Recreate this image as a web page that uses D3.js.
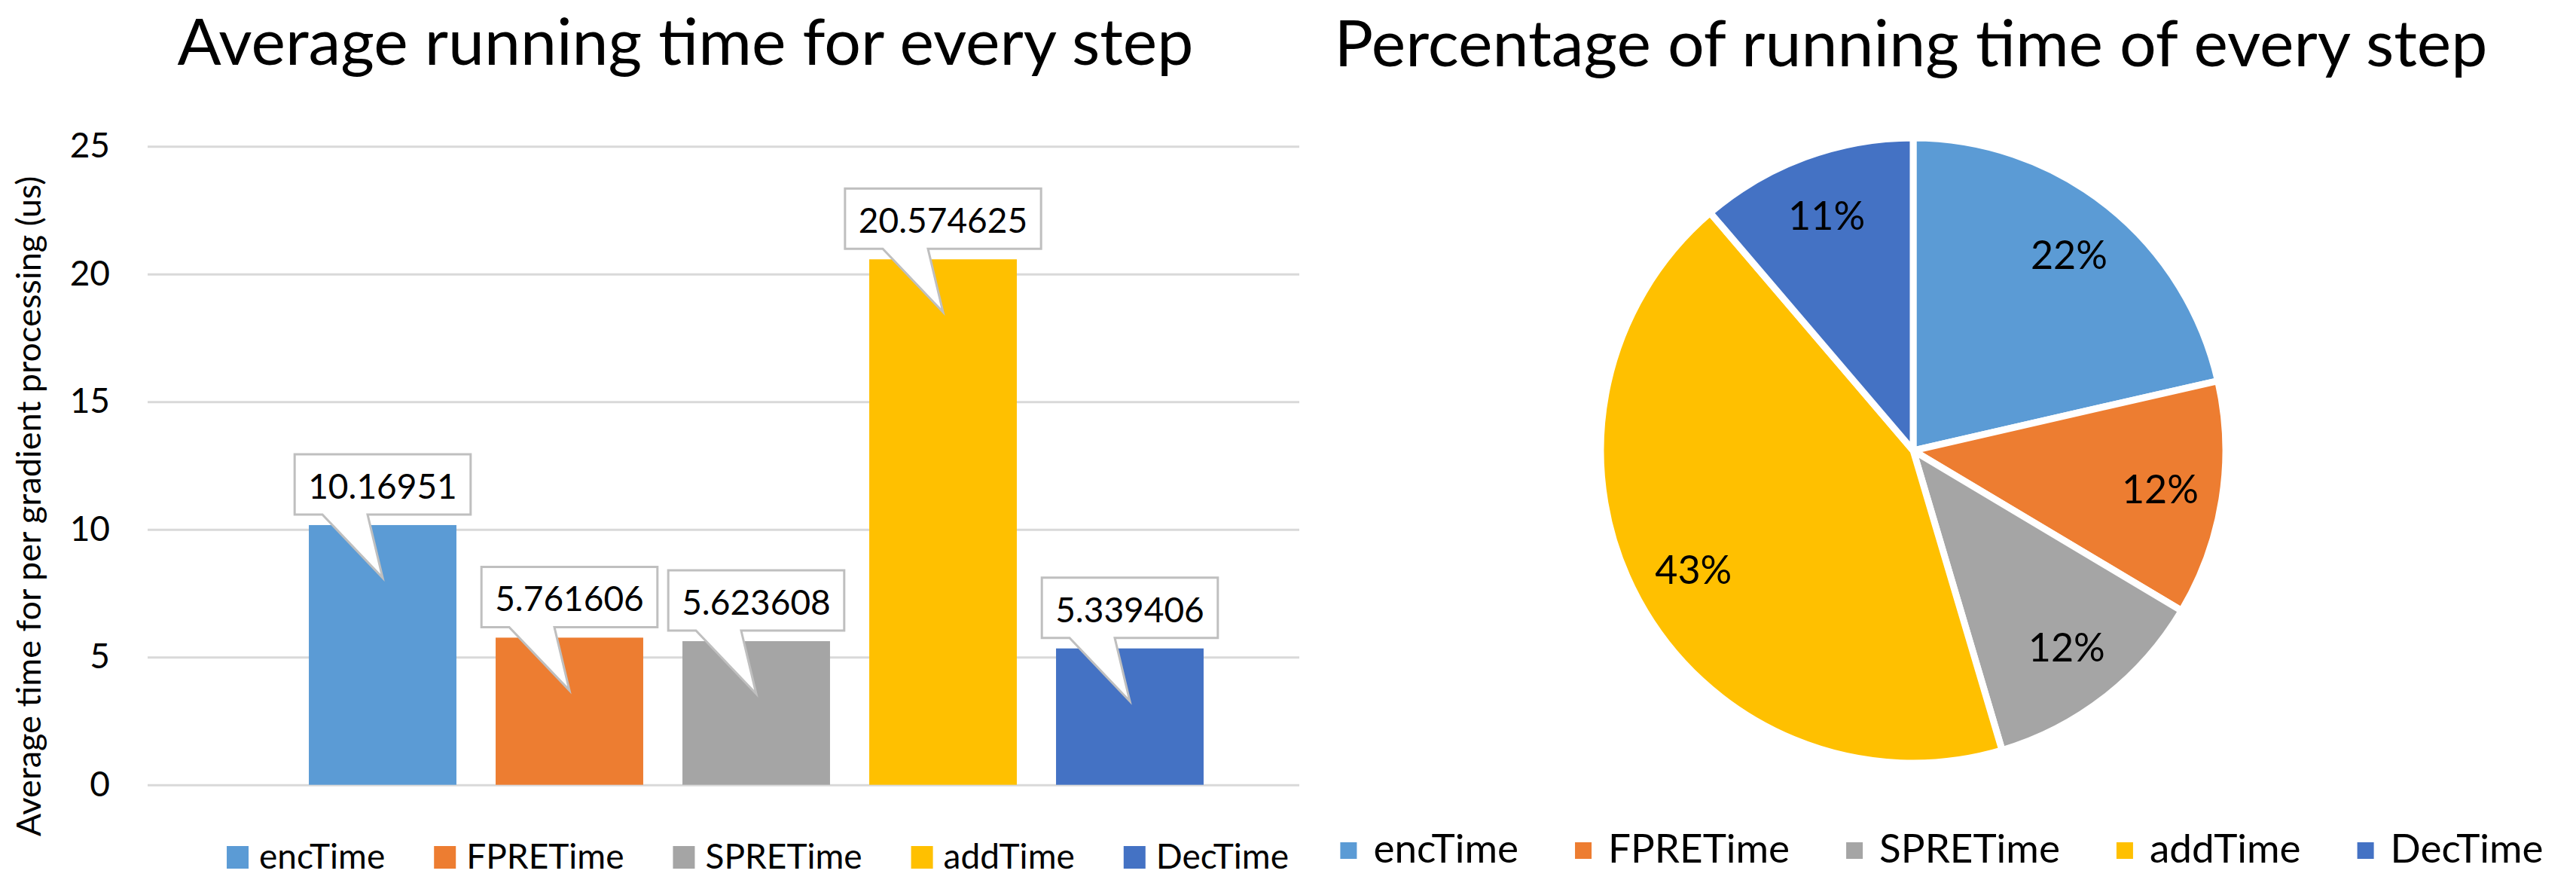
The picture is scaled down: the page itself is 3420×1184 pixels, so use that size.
<!DOCTYPE html>
<html><head><meta charset="utf-8">
<script src="https://cdn.jsdelivr.net/npm/d3@7"></script>
<style>body{margin:0;background:#fff} svg{display:block} text{font-family:Lato,"Open Sans",sans-serif;fill:#000}</style>
</head><body><svg id="c" width="3420" height="1184"></svg>
<script>
// ---- data ----
const categories = ["encTime","FPRETime","SPRETime","addTime","DecTime"];
const avgTime = [10.16951, 5.761606, 5.623608, 20.574625, 5.339406];
const valueLabels = ["10.16951","5.761606","5.623608","20.574625","5.339406"];
const pieLabels = ["22%","12%","12%","43%","11%"];
const yTicks = [0, 5, 10, 15, 20, 25];
const leftTitle = "Average running time for every step";
const rightTitle = "Percentage of running time of every step";
const yTitle = "Average time for per gradient processing (us)";
// ---- style ----
const palette = ["#5B9BD5","#ED7D31","#A5A5A5","#FFC000","#4472C4"];

const svg = d3.select("#c");

// ---------- LEFT: bar chart ----------
const plot = {left:196, right:1725, top:194.2, bottom:1041.7};
const y = d3.scaleLinear().domain([0,25]).range([plot.bottom, plot.top]);
const x = d3.scaleBand().domain(categories).range([384,1624]).paddingInner(0.21).paddingOuter(0.105);

svg.append("text").attr("x",910).attr("y",86).attr("text-anchor","middle")
  .attr("font-size",86).text(leftTitle);

// gridlines
const grid = svg.append("g").attr("transform",`translate(${plot.left},0)`)
  .call(d3.axisLeft(y).tickValues(yTicks).tickSize(-(plot.right-plot.left)).tickFormat(""));
grid.select(".domain").remove();
grid.selectAll("line").attr("stroke","#D9D9D9").attr("stroke-width",3);

// y tick labels
const yax = svg.append("g").attr("transform",`translate(146,0)`)
  .call(d3.axisLeft(y).tickValues(yTicks).tickSize(0).tickPadding(0).tickFormat(d3.format("d")));
yax.select(".domain").remove();
yax.selectAll("text").attr("font-size",46).attr("font-family","Lato,'Open Sans',sans-serif").attr("fill","#000");

// y title
svg.append("text").attr("transform","translate(54,672) rotate(-90)").attr("text-anchor","middle")
  .attr("font-size",45).text(yTitle);

// bars
const bars = categories.map((c,i)=>({c, v:avgTime[i], lab:valueLabels[i], col:palette[i]}));
svg.append("g").selectAll("rect").data(bars).join("rect")
  .attr("x",d=>x(d.c)).attr("width",x.bandwidth())
  .attr("y",d=>y(d.v)).attr("height",d=>y(0)-y(d.v)).attr("fill",d=>d.col);

// callout labels
const cl = svg.append("g").selectAll("g").data(bars).join("g");
const cpath = cl.append("path").attr("fill","#fff").attr("stroke","#BFBFBF").attr("stroke-width",3).attr("stroke-linejoin","miter");
const ctext = cl.append("text").attr("text-anchor","middle").attr("font-size",46)
  .attr("x",d=>x(d.c)+x.bandwidth()/2).attr("y",d=>y(d.v)-35).text(d=>d.lab);
ctext.each(function(d){ d.tw = this.getComputedTextLength(); });
cpath.attr("d",d=>{
  const cx = x(d.c)+x.bandwidth()/2, top = y(d.v);
  const w = d.tw + 36, bTop = top-94, bBot = top-14, l = cx - w/2, r = cx + w/2;
  return `M${l},${bTop}H${r}V${bBot}H${cx-20}L${cx},${top+70}L${cx-80},${bBot}H${l}Z`;
});

// legend helper
function legend(cx, sqW, sqH, sqTop, gap, spacing, fs, baseline){
  const g = svg.append("g");
  const it = g.selectAll("g").data(categories).join("g");
  it.append("rect").attr("width",sqW).attr("height",sqH).attr("y",sqTop).attr("fill",(d,i)=>palette[i]);
  const t = it.append("text").attr("x",sqW+gap).attr("y",baseline).attr("font-size",fs).text(d=>d);
  const ws = t.nodes().map(n=>n.getComputedTextLength());
  const total = d3.sum(ws, w=>sqW+gap+w) + spacing*(ws.length-1);
  let xx = cx - total/2;
  it.attr("transform",(d,i)=>{ const s = `translate(${xx},0)`; xx += sqW+gap+ws[i]+spacing; return s; });
}
legend(1006, 29, 30, 1123, 14, 65, 46, 1153);

// ---------- RIGHT: pie ----------
svg.append("text").attr("x",2537).attr("y",88).attr("text-anchor","middle")
  .attr("font-size",86).text(rightTitle);

const pie = d3.pie().sort(null).value(d=>d.v)(bars);
const R = 415;
const arc = d3.arc().innerRadius(0).outerRadius(R);
const labArc = d3.arc().innerRadius(332).outerRadius(332);
const pg = svg.append("g").attr("transform","translate(2540,598)");
pg.selectAll("path").data(pie).join("path").attr("d",arc)
  .attr("fill",d=>d.data.col).attr("stroke","#fff").attr("stroke-width",9);
pg.selectAll("text").data(pie).join("text")
  .attr("transform",d=>`translate(${labArc.centroid(d)})`)
  .attr("text-anchor","middle").attr("dy","0.35em").attr("font-size",52)
  .text((d,i)=>pieLabels[i]);

legend(2578, 22, 22, 1118, 22, 75, 53, 1145);
</script></body></html>
